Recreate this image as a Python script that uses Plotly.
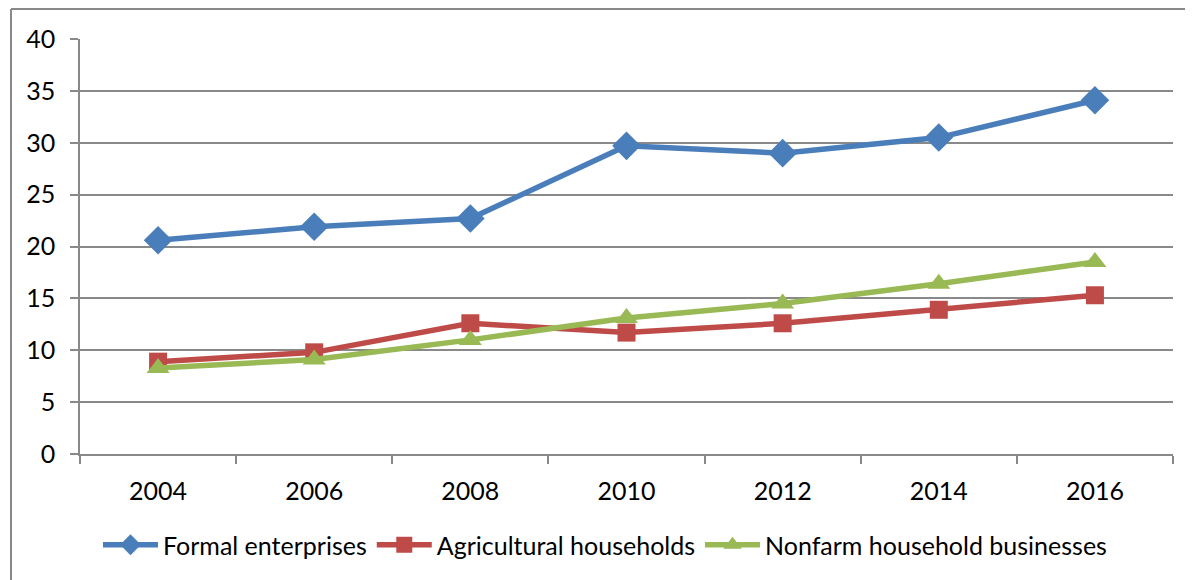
import plotly.graph_objects as go

years = ["2004", "2006", "2008", "2010", "2012", "2014", "2016"]
formal = [20.6, 21.9, 22.7, 29.7, 29.0, 30.5, 34.1]
agricultural = [8.9, 9.8, 12.6, 11.7, 12.6, 13.9, 15.3]
nonfarm = [8.3, 9.1, 11.0, 13.1, 14.5, 16.4, 18.5]
y_ticks = [0, 5, 10, 15, 20, 25, 30, 35, 40]

FONT = "Lato"
GRID = "#898989"

xpos = list(range(len(years)))

fig = go.Figure()
series = [
    ("Formal enterprises", formal, "#4A7EBB", "diamond", 22),
    ("Agricultural households", agricultural, "#BE4B48", "square", 18),
    ("Nonfarm household businesses", nonfarm, "#98B954", "triangle-up", 20),
]
for name, vals, col, sym, sz in series:
    fig.add_trace(go.Scatter(
        x=xpos, y=vals, name=name, mode="lines+markers",
        line=dict(color=col, width=5.5),
        marker=dict(symbol=sym, size=sz, color=col, line=dict(width=0)),
    ))

# the page body adds an 8px offset; work in screen coordinates
OFF = 8
W, H = 1193 - OFF, 580 - OFF
# plot area in screen coordinates
SX0, SX1, SY0, SY1 = 80, 1173, 39, 454
L, R = SX0 - OFF, (1193 - SX1)
T, B = SY0 - OFF, (580 - SY1)
pw, ph = W - L - R, H - T - B

def px(x):
    return (x - SX0) / pw

def py(y):
    return (SY1 - y) / ph

fig.update_layout(
    width=W, height=H,
    margin=dict(l=L, r=R, t=T, b=B, autoexpand=False),
    paper_bgcolor="white", plot_bgcolor="white",
    font=dict(family=FONT, size=25, color="black"),
    showlegend=True,
    legend=dict(orientation="h", x=px(605), xanchor="center", y=py(545), yanchor="middle",
                font=dict(size=25), itemwidth=55, itemsizing="trace", traceorder="normal"),
    xaxis=dict(
        range=[-0.5, len(years) - 0.5],
        tickmode="array", tickvals=xpos, ticktext=years,
        ticks="", showgrid=False, zeroline=False,
        showline=True, linecolor=GRID, linewidth=1.5,
        ticklabelstandoff=14,
        minor=dict(tick0=-0.5, dtick=1, ticks="outside", ticklen=8,
                   tickcolor=GRID, tickwidth=1.5, showgrid=False),
        fixedrange=True,
    ),
    yaxis=dict(
        range=[0, 40], tickmode="array", tickvals=y_ticks,
        ticks="outside", ticklen=8, tickcolor=GRID, tickwidth=1.5,
        showgrid=True, gridcolor=GRID, gridwidth=1.5,
        zeroline=False, showline=True, linecolor=GRID, linewidth=1.5,
        ticklabelstandoff=10,
    ),
    shapes=[
        dict(type="line", xref="paper", yref="paper",
             x0=px(11), y0=py(600), x1=px(11), y1=py(9),
             line=dict(color=GRID, width=2)),
        dict(type="line", xref="paper", yref="paper",
             x0=px(11), y0=py(9), x1=px(1210), y1=py(9),
             line=dict(color=GRID, width=2)),
    ],
)

fig.write_html("out.html")
